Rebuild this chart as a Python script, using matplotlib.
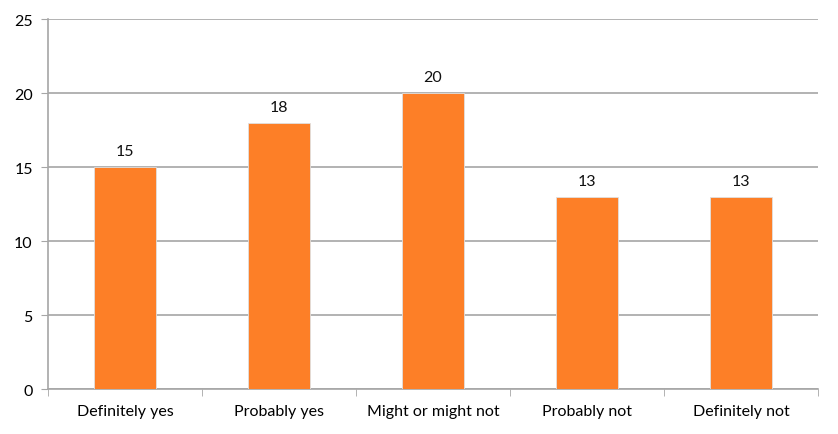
import matplotlib
matplotlib.use("Agg")
import matplotlib.pyplot as plt

categories = ["Definitely yes", "Probably yes", "Might or might not", "Probably not", "Definitely not"]
values = [15, 18, 20, 13, 13]
yticks = [0, 5, 10, 15, 20, 25]

plt.rcParams['font.family'] = ['Lato', 'DejaVu Sans']

fig = plt.figure(figsize=(8.38, 4.35), dpi=100)
ax = fig.add_axes([0.0573, 0.1034, 0.976 - 0.0573, 0.954 - 0.1034])

x = range(len(categories))
bars = ax.bar(x, values, width=0.4, color="#FD7F27", zorder=3,
              edgecolor="#e0e0e0", linewidth=0.6)
for xi, v in zip(x, values):
    ax.text(xi, v + 0.6, str(v), ha="center", va="bottom", fontsize=11.5, color="#111111")

ax.set_xlim(-0.5, len(categories) - 0.5)
ax.set_ylim(0, 25)
ax.set_yticks(yticks)
ax.set_yticklabels([str(t) for t in yticks])
ax.set_xticks(list(x))
ax.set_xticklabels(categories)
ax.set_xticks([i - 0.5 for i in range(len(categories) + 1)], minor=True)

ax.yaxis.grid(True, color="#a6a6a6", linewidth=1.2, zorder=0)
for s in ["top", "right"]:
    ax.spines[s].set_visible(False)
ax.spines["left"].set_color("#a6a6a6")
ax.spines["bottom"].set_color("#a6a6a6")
ax.spines["left"].set_linewidth(1.2)
ax.spines["bottom"].set_linewidth(1.2)

ax.tick_params(axis="y", length=5, color="#a6a6a6", labelsize=11.5, pad=6)
ax.tick_params(axis="x", which="major", length=0, labelsize=11.5, pad=11)
ax.tick_params(axis="x", which="minor", length=5, color="#a6a6a6", direction="out")

fig.savefig("out.png", dpi=100)
